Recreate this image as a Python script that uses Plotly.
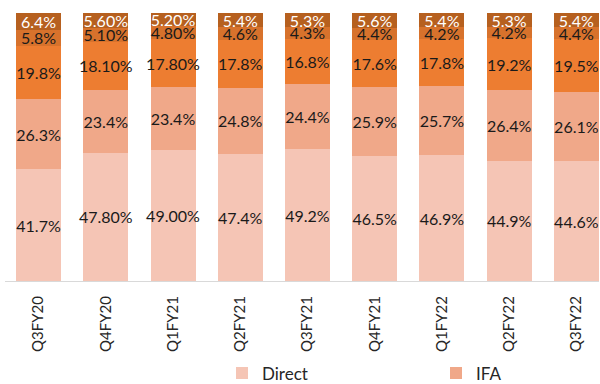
import plotly.graph_objects as go

quarters = ["Q3FY20", "Q4FY20", "Q1FY21", "Q2FY21", "Q3FY21",
            "Q4FY21", "Q1FY22", "Q2FY22", "Q3FY22"]

direct = [41.7, 47.80, 49.00, 47.4, 49.2, 46.5, 46.9, 44.9, 44.6]
ifa = [26.3, 23.4, 23.4, 24.8, 24.4, 25.9, 25.7, 26.4, 26.1]
seg3 = [19.8, 18.10, 17.80, 17.8, 16.8, 17.6, 17.8, 19.2, 19.5]
seg4 = [5.8, 5.10, 4.80, 4.6, 4.3, 4.4, 4.2, 4.2, 4.4]
seg5 = [6.4, 5.60, 5.20, 5.4, 5.3, 5.6, 5.4, 5.3, 5.4]

# label strings as printed on the bars
direct_txt = ["41.7%", "47.80%", "49.00%", "47.4%", "49.2%", "46.5%", "46.9%", "44.9%", "44.6%"]
ifa_txt = ["26.3%", "23.4%", "23.4%", "24.8%", "24.4%", "25.9%", "25.7%", "26.4%", "26.1%"]
seg3_txt = ["19.8%", "18.10%", "17.80%", "17.8%", "16.8%", "17.6%", "17.8%", "19.2%", "19.5%"]
seg4_txt = ["5.8%", "5.10%", "4.80%", "4.6%", "4.3%", "4.4%", "4.2%", "4.2%", "4.4%"]
seg5_txt = ["6.4%", "5.60%", "5.20%", "5.4%", "5.3%", "5.6%", "5.4%", "5.3%", "5.4%"]

FONT = "Lato"

series = [
    ("Direct", direct, direct_txt, "#F5C5B5", "#1a1a1a", True),
    ("IFA", ifa, ifa_txt, "#F0A889", "#1a1a1a", True),
    ("Others", seg3, seg3_txt, "#ED7D31", "#1a1a1a", False),
    ("Others 2", seg4, seg4_txt, "#D7722C", "#1a1a1a", False),
    ("Others 3", seg5, seg5_txt, "#B6601F", "#ffffff", False),
]

fig = go.Figure()
for name, vals, txt, color, tcolor, show in series:
    fig.add_trace(go.Bar(
        x=quarters, y=vals, name=name, text=txt,
        marker=dict(color=color, line=dict(width=0)),
        textposition="inside", insidetextanchor="middle",
        textangle=0, constraintext="none",
        textfont=dict(family=FONT, size=16, color=tcolor),
        showlegend=show, hoverinfo="skip",
    ))

fig.update_layout(
    barmode="stack",
    bargap=0.33,
    width=600, height=384,
    margin=dict(l=5, r=1, t=13, b=103, autoexpand=False),
    paper_bgcolor="white", plot_bgcolor="white",
    font=dict(family=FONT, color="#404040"),
    legend=dict(orientation="h", xref="container", yref="paper",
                x=0.37, y=-0.345, xanchor="left", yanchor="middle",
                entrywidth=169, entrywidthmode="pixels",
                font=dict(family=FONT, size=17, color="#262626"),
                traceorder="normal"),
)
fig.update_xaxes(
    range=[-0.5, 8.336], showgrid=False, showline=True, automargin=False,
    linecolor="#D9D9D9", linewidth=1, ticks="", tickangle=-90,
    tickfont=dict(family=FONT, size=15, color="#262626"),
    ticklabelstandoff=8,
)
fig.update_yaxes(range=[0, 100], visible=False)

fig.write_html("out.html")
